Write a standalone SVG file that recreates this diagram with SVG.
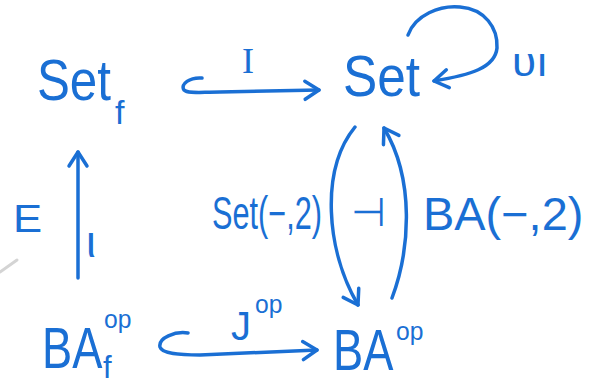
<svg xmlns="http://www.w3.org/2000/svg" width="593" height="386" viewBox="0 0 593 386">
<style>
  .t { font-family: "Liberation Sans", "DejaVu Sans", sans-serif; fill: #1a6fd4; }
  .big { font-size: 58px; }
  .sub { font-size: 34px; }
  .sup { font-size: 26px; }
  .lbl { font-size: 46px; }
  .e { fill: none; stroke: #1a6fd4; stroke-width: 3.5; stroke-linecap: round; stroke-linejoin: round; }
</style>
<defs>
  <marker id="ah" markerUnits="userSpaceOnUse" markerWidth="40" markerHeight="40" viewBox="-20 -20 40 40" refX="0" refY="0" orient="auto" overflow="visible">
    <path d="M-14,-9 L0,0 L-14,9" fill="none" stroke="#1a6fd4" stroke-width="3.5" stroke-linecap="round" stroke-linejoin="round"/>
  </marker>
</defs>
<rect width="593" height="386" fill="#ffffff"/>
<line x1="0" y1="272" x2="17" y2="260" stroke="#d4d4d4" stroke-width="3" stroke-linecap="round"/>

<g id="node-setf">
  <text class="t big" transform="translate(37,100) scale(0.85,1)">Set</text>
  <text class="t sub" x="115" y="124">f</text>
</g>
<g id="node-set">
  <text class="t big" transform="translate(343,96) scale(0.885,1)">Set</text>
</g>
<g id="node-baf">
  <text class="t big" transform="translate(42,368) scale(0.78,1)">BA</text>
  <text class="t" style="font-size:31px" x="103" y="378">f</text>
  <text class="t sup" transform="translate(104,328) scale(0.95,1)">op</text>
</g>
<g id="node-baop">
  <text class="t big" transform="translate(333,370) scale(0.78,1)">BA</text>
  <text class="t sup" transform="translate(396,340) scale(0.95,1)">op</text>
</g>

<g id="connectors">
  <path class="e" d="M202,78 C190,77 180,84 184,90 C188,94 200,92 220,92 L319,90" marker-end="url(#ah)"/>
  <text class="t" style="font-family:'Liberation Serif',serif;font-size:36px" x="248" y="73" text-anchor="middle">I</text>

  <path class="e" d="M408,35 C415,15 440,5 460,7 C485,9 498,28 497,48 C495,68 470,75 434,81" marker-end="url(#ah)"/>
  <text class="t" style="font-size:40px" transform="translate(512,76) scale(1.1,1)">υı</text>

  <path class="e" d="M78,278 L78,152" marker-end="url(#ah)"/>
  <text class="t" style="font-size:38px" transform="translate(13,232) scale(1.15,1)">E</text>
  <text class="t" style="font-size:44px" x="86" y="257">ι</text>

  <path class="e" d="M355,127 C320,170 326,250 358,305" marker-end="url(#ah)"/>
  <path class="e" d="M392,298 C410,250 415,180 384,128" marker-end="url(#ah)"/>
  <text class="t lbl" transform="translate(212,229) scale(0.667,1)">Set(−,2)</text>
  <text class="t" style="font-family:'DejaVu Sans',sans-serif;font-size:40px" transform="translate(351,226) scale(1.0,1)">⊣</text>
  <text class="t lbl" transform="translate(423,230) scale(1.02,1)">BA(−,2)</text>

  <path class="e" d="M188,333 C175,331 158,338 160,347 C162,354 180,355 200,355 L317,350" marker-end="url(#ah)"/>
  <text class="t" style="font-size:40px" x="231" y="340">J</text>
  <text class="t sup" transform="translate(255,313) scale(0.95,1)">op</text>
</g>
</svg>
